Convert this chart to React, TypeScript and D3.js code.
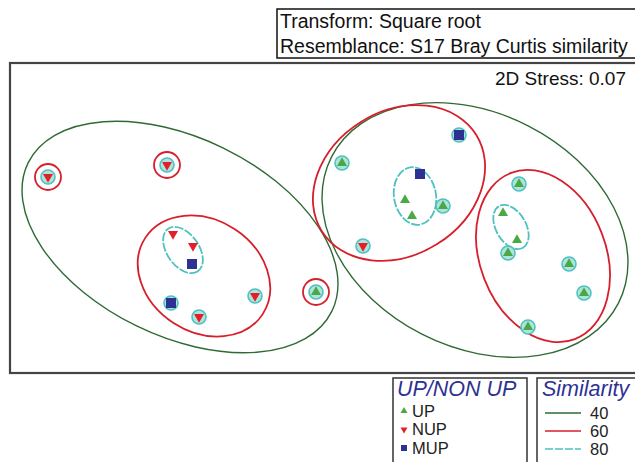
import React from "react";
import * as d3 from "d3";

// ---- data (MDS coordinates) ----
const upPoints: [number, number][] = [
  [-0.04, -0.62], [0.22, 0.67], [0.85, 0.30], [0.92, 0.14], [1.23, 0.24],
  [1.99, 0.46], [1.83, 0.17], [1.97, -0.10], [1.88, -0.23], [2.49, -0.34],
  [2.64, -0.63], [2.08, -0.97],
];
const nupPoints: [number, number][] = [
  [-2.72, 0.53], [-1.53, 0.65], [-1.47, -0.04], [-1.27, -0.16],
  [-1.21, -0.87], [-0.65, -0.66], [0.43, -0.16],
];
const mupPoints: [number, number][] = [
  [-1.28, -0.34], [-1.49, -0.73], [1.39, 0.95], [1.00, 0.56],
];

// similarity contours: [cx, cy, a, b, angleDeg]
const contours40: [number, number, number, number, number][] = [
  [-1.40, -0.07, 1.69, 0.99, 26],
  [1.55, -0.0, 1.61, 1.17, 27],
];
const contours60: [number, number, number, number, number][] = [
  [-1.16, -0.46, 0.70, 0.56, 33],
  [0.79, 0.47, 0.91, 0.72, -32],
  [2.23, -0.26, 0.89, 0.63, 69],
  [-2.72, 0.53, 0.13, 0.13, 0],
  [-1.53, 0.65, 0.13, 0.13, 0],
  [-0.04, -0.62, 0.13, 0.13, 0],
];
const contours80: [number, number, number, number, number][] = [
  [-1.37, -0.20, 0.26, 0.16, 55],
  [0.95, 0.34, 0.29, 0.21, 80],
  [1.91, 0.03, 0.24, 0.15, 60],
];

const legendGroups = ["UP", "NUP", "MUP"];
const legendLevels = ["40", "60", "80"];

const C_UP = "#4aa944";
const C_NUP = "#e3202a";
const C_MUP = "#2e3192";
const C40 = "#2f6a35";
const C60 = "#d71f2c";
const C80 = "#4fc1bf";
const FONT = "'Liberation Sans', Arial, sans-serif";

const W = 635, H = 462;
const x = d3.scaleLinear().domain([-3.2, 3.2]).range([0, 640]);
const y = d3.scaleLinear().domain([-1.5, 1.5]).range([380, 80]);

function inEllipse(p: [number, number], e: [number, number, number, number, number]) {
  const [cx, cy, a, b, ang] = e;
  const dx = x(p[0]) - x(cx), dy = y(p[1]) - y(cy);
  const t = (ang * Math.PI) / 180;
  const u = dx * Math.cos(t) + dy * Math.sin(t);
  const v = -dx * Math.sin(t) + dy * Math.cos(t);
  const A = x(a) - x(0), B = x(b) - x(0);
  return (u * u) / (A * A) + (v * v) / (B * B) <= 1;
}

function triUp(cx: number, cy: number, s: number) {
  const h = s * 0.87;
  return `M${cx},${cy - (2 * h) / 3}L${cx + s / 2},${cy + h / 3}L${cx - s / 2},${cy + h / 3}Z`;
}
function triDown(cx: number, cy: number, s: number) {
  const h = s * 0.87;
  return `M${cx},${cy + (2 * h) / 3}L${cx + s / 2},${cy - h / 3}L${cx - s / 2},${cy - h / 3}Z`;
}

function Ell({ e, stroke, sw, dash }: { e: [number, number, number, number, number]; stroke: string; sw: number; dash?: string }) {
  const [cx, cy, a, b, ang] = e;
  return (
    <ellipse
      cx={0}
      cy={0}
      rx={x(a) - x(0)}
      ry={x(b) - x(0)}
      transform={`translate(${x(cx)},${y(cy)}) rotate(${ang})`}
      fill="none"
      stroke={stroke}
      strokeWidth={sw}
      strokeDasharray={dash}
    />
  );
}

export default function App() {
  const allPts = [...upPoints, ...nupPoints, ...mupPoints];
  const haloPts = allPts.filter((p) => !contours80.some((e) => inEllipse(p, e)));
  return (
    <svg width={W} height={H} style={{ position: "absolute", left: 0, top: 0, background: "#fff" }} fontFamily={FONT}>
      <rect x={0} y={0} width={W} height={H} fill="#fff" />
      {/* header box */}
      <rect x={277} y={9} width={370} height={49} fill="none" stroke="#111" strokeWidth={1.5} />
      <text x={280} y={28} fontSize={19.5} fill="#111">Transform: Square root</text>
      <text x={280} y={53} fontSize={19.5} fill="#111">Resemblance: S17 Bray Curtis similarity</text>
      {/* frame */}
      <rect x={10} y={63} width={640} height={310} fill="none" stroke="#444" strokeWidth={2.2} />
      <text x={626} y={85} fontSize={19} textAnchor="end" fill="#111">2D Stress: 0.07</text>

      {/* contours */}
      {contours40.map((e, i) => <Ell key={"g" + i} e={e} stroke={C40} sw={1.4} />)}
      {contours60.map((e, i) => <Ell key={"r" + i} e={e} stroke={C60} sw={1.8} />)}
      {contours80.map((e, i) => <Ell key={"c" + i} e={e} stroke={C80} sw={1.8} dash="9,1.5" />)}
      {haloPts.map((p, i) => (
        <circle key={"h" + i} cx={x(p[0])} cy={y(p[1])} r={7} fill="#aee3de" stroke={C80} strokeWidth={1.6} />
      ))}

      {/* points */}
      {upPoints.map((p, i) => <path key={"u" + i} d={triUp(x(p[0]), y(p[1]), 10)} fill={C_UP} />)}
      {nupPoints.map((p, i) => <path key={"n" + i} d={triDown(x(p[0]), y(p[1]), 10)} fill={C_NUP} />)}
      {mupPoints.map((p, i) => (
        <rect key={"m" + i} x={x(p[0]) - 5} y={y(p[1]) - 5} width={10} height={10} fill={C_MUP} />
      ))}

      {/* legend 1 */}
      <rect x={393} y={378} width={134} height={90} fill="none" stroke="#333" strokeWidth={1.5} />
      <text x={397} y={396} fontSize={21.5} fontStyle="italic" fill={C_MUP}>UP/NON UP</text>
      {legendGroups.map((g, i) => {
        const cy = 411 + i * 18.5;
        const mx = 404;
        return (
          <g key={g}>
            {i === 0 && <path d={triUp(mx, cy, 7)} fill={C_UP} />}
            {i === 1 && <path d={triDown(mx, cy, 7)} fill={C_NUP} />}
            {i === 2 && <rect x={mx - 3} y={cy - 3} width={6} height={6} fill={C_MUP} />}
            <text x={412} y={cy + 5.5} fontSize={16.5} fill="#222">{g}</text>
          </g>
        );
      })}
      {/* legend 2 */}
      <rect x={537} y={378} width={110} height={90} fill="none" stroke="#333" strokeWidth={1.5} />
      <text x={542} y={396} fontSize={21.5} fontStyle="italic" fill={C_MUP}>Similarity</text>
      {legendLevels.map((lv, i) => {
        const cy = 413 + i * 18;
        const col = [C40, C60, C80][i];
        return (
          <g key={lv}>
            <line x1={545} x2={581} y1={cy} y2={cy} stroke={col} strokeWidth={1.5} strokeDasharray={i === 2 ? "8,2" : undefined} />
            <text x={590} y={cy + 5.5} fontSize={16.5} fill="#222">{lv}</text>
          </g>
        );
      })}
    </svg>
  );
}
